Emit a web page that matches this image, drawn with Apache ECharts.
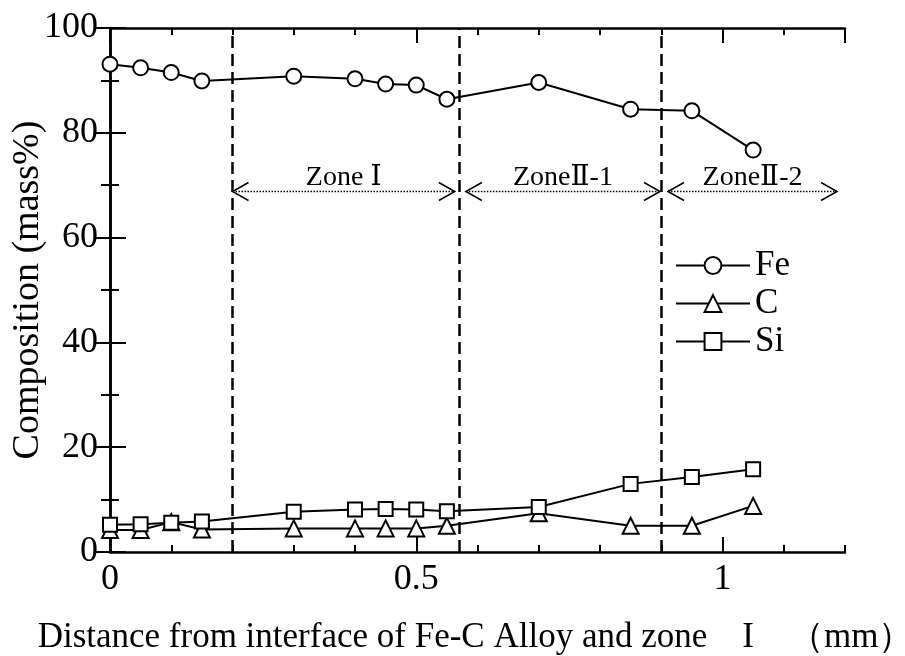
<!DOCTYPE html>
<html>
<head>
<meta charset="utf-8">
<script src="https://cdn.jsdelivr.net/npm/echarts@6/dist/echarts.min.js"></script>
<style>
  html, body { margin: 0; padding: 0; background: #fff; }
  #chart { width: 905px; height: 656px; }
</style>
</head>
<body>
<div id="chart"></div>
<script>
// distance (mm) and composition (mass%)
var distance = [0, 0.05, 0.1, 0.15, 0.3, 0.4, 0.45, 0.5, 0.55, 0.7, 0.85, 0.95, 1.05]
var fe = [93.1, 92.4, 91.5, 89.9, 90.8, 90.3, 89.3, 89.1, 86.4, 89.6, 84.5, 84.2, 76.7]
var c = [4.2, 4.2, 5.7, 4.3, 4.5, 4.5, 4.5, 4.5, 5.0, 7.4, 5.0, 5.0, 8.8]
var si = [5.2, 5.3, 5.6, 5.8, 7.7, 8.1, 8.2, 8.1, 7.8, 8.6, 13.0, 14.3, 15.8]

// zone boundaries and arrows
var zoneBounds = [0.2, 0.573, 0.9]
var zoneNames = ['Zone Ⅰ', 'ZoneⅡ-1', 'ZoneⅡ-2']
var zoneStart = [0.2, 0.581, 0.911]
var zoneEnd = [0.563, 0.898, 1.187]
var zoneArrowY = 68.8

var font = "'Liberation Serif', 'DejaVu Serif', serif"

function pairs (xs, ys) {
  return xs.map(function (x, i) { return [x, ys[i]] })
}

function renderZone (params, api) {
  var a = api.coord([api.value(0), api.value(2)])
  var b = api.coord([api.value(1), api.value(2)])
  var w = 16
  var h = 9
  var st = { stroke: '#000', fill: null, lineWidth: 1.5 }
  return {
    type: 'group',
    children: [
      { type: 'line', shape: { x1: a[0], y1: a[1], x2: b[0], y2: b[1] }, style: { stroke: '#000', lineWidth: 1.5, lineDash: [1.5, 1.5] } },
      { type: 'polyline', shape: { points: [[a[0] + w, a[1] - h], [a[0], a[1]], [a[0] + w, a[1] + h]] }, style: st },
      { type: 'polyline', shape: { points: [[b[0] - w, b[1] - h], [b[0], b[1]], [b[0] - w, b[1] + h]] }, style: st },
      {
        type: 'text',
        style: {
          text: zoneNames[params.dataIndex],
          x: (a[0] + b[0]) / 2,
          y: a[1],
          align: 'center',
          verticalAlign: 'bottom',
          fontSize: 28,
          fontFamily: font,
          fill: '#000'
        }
      }
    ]
  }
}

function makeLine (name, data, symbol, size) {
  return {
    name: name,
    type: 'line',
    data: data,
    symbol: symbol,
    symbolSize: size,
    showAllSymbol: true,
    lineStyle: { color: '#000', width: 2 },
    itemStyle: { color: '#fff', borderColor: '#000', borderWidth: 2 },
    z: 5
  }
}

var chart = echarts.init(document.getElementById('chart'))

var axisLine = { show: true, lineStyle: { color: '#000', width: 2.5 } }

var option = {
  animation: false,
  backgroundColor: '#fff',
  grid: { left: 110, right: 60, top: 28, bottom: 104, outerBoundsMode: 'none' },
  legend: {
    orient: 'vertical',
    left: 670,
    top: 243,
    itemWidth: 74,
    itemHeight: 21,
    itemGap: 3,
    textStyle: { fontSize: 35, fontFamily: font, color: '#000' },
    data: ['Fe', 'C', 'Si']
  },
  xAxis: [
    {
      type: 'value', position: 'bottom', min: 0, max: 1.2, interval: 0.5,
      axisLine: axisLine,
      axisTick: { inside: true, length: 15, lineStyle: { color: '#000', width: 2 } },
      axisLabel: { fontSize: 36, fontFamily: font, color: '#000', margin: 10, showMaxLabel: false },
      splitLine: { show: false },
      name: 'Distance from interface of Fe-C Alloy and zone　I　（mm）',
      nameLocation: 'middle',
      nameGap: 68,
      nameMoveOverlap: false,
      nameTextStyle: { fontSize: 35, fontFamily: font, color: '#000', padding: [0, 4, 0, 0] }
    },
    {
      type: 'value', position: 'bottom', min: 0, max: 1.2, interval: 0.1,
      axisLine: { show: false },
      axisTick: { inside: true, length: 7, lineStyle: { color: '#000', width: 2 } },
      axisLabel: { show: false },
      splitLine: { show: false }
    },
    {
      type: 'value', position: 'top', min: 0, max: 1.2, interval: 0.5,
      axisLine: axisLine,
      axisTick: { inside: true, length: 15, lineStyle: { color: '#000', width: 2 } },
      axisLabel: { show: false },
      splitLine: { show: false }
    },
    {
      type: 'value', position: 'top', min: 0, max: 1.2, interval: 0.1,
      axisLine: { show: false },
      axisTick: { inside: true, length: 7, lineStyle: { color: '#000', width: 2 } },
      axisLabel: { show: false },
      splitLine: { show: false }
    }
  ],
  yAxis: [
    {
      type: 'value', position: 'left', min: 0, max: 100, interval: 20,
      axisLine: axisLine,
      axisTick: { inside: true, length: 16, lineStyle: { color: '#000', width: 2 } },
      minorTick: { show: true, splitNumber: 2, length: 9, lineStyle: { color: '#000', width: 2 } },
      axisLabel: { fontSize: 36, fontFamily: font, color: '#000', margin: 12 },
      splitLine: { show: false },
      name: 'Composition (mass%)',
      nameLocation: 'middle',
      nameRotate: 90,
      nameGap: 63,
      nameMoveOverlap: false,
      nameTextStyle: { fontSize: 38, fontFamily: font, color: '#000' }
    },
    {
      type: 'value', position: 'right', min: 0, max: 100, interval: 20,
      axisLine: axisLine,
      axisTick: { inside: true, length: 16, lineStyle: { color: '#000', width: 2 } },
      minorTick: { show: true, splitNumber: 2, length: 9, lineStyle: { color: '#000', width: 2 } },
      axisLabel: { show: false },
      splitLine: { show: false }
    }
  ],
  series: [
    Object.assign(makeLine('Fe', pairs(distance, fe), 'circle', 15), {
      markLine: {
        silent: true,
        symbol: 'none',
        label: { show: false },
        lineStyle: { color: '#000', width: 2.5, type: [12, 6] },
        data: zoneBounds.map(function (x) { return { xAxis: x } })
      }
    }),
    makeLine('C', pairs(distance, c), 'triangle', 16),
    makeLine('Si', pairs(distance, si), 'rect', 14),
    {
      type: 'custom',
      renderItem: renderZone,
      silent: true,
      encode: { x: [0, 1], y: 2 },
      data: zoneStart.map(function (s, i) { return [s, zoneEnd[i], zoneArrowY] }),
      z: 4
    }
  ]
}

chart.setOption(option)
</script>
</body>
</html>
